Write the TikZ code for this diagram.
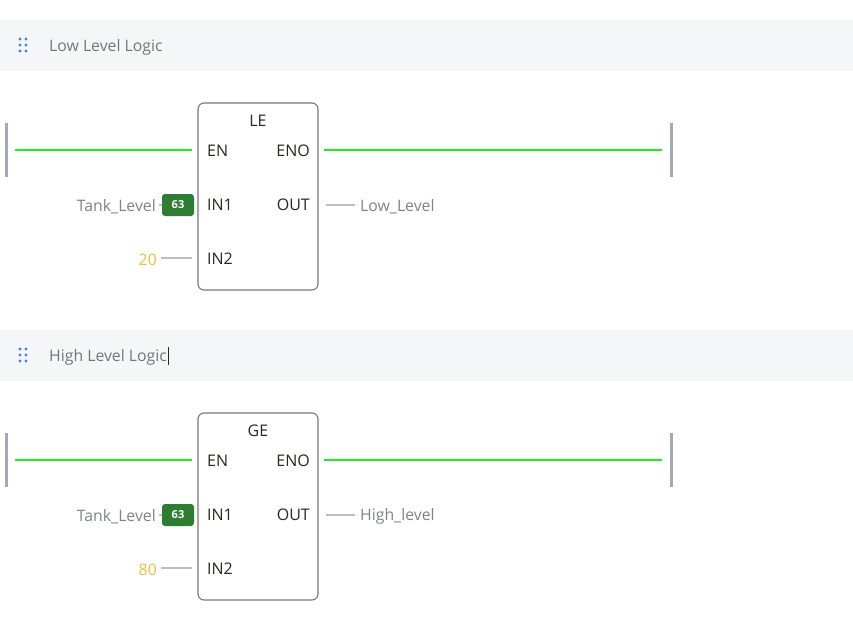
\documentclass[tikz,border=0pt]{standalone}
\usepackage{fontspec}
\setmainfont{Open Sans}
\definecolor{band}{HTML}{F5F6F8}
\definecolor{hdrtxt}{HTML}{76767A}
\definecolor{dotblue}{HTML}{3B82F6}
\definecolor{railc}{HTML}{A3A8BB}
\definecolor{wire}{HTML}{1EF01E}
\definecolor{boxc}{HTML}{76787D}
\definecolor{pintxt}{HTML}{2A2622}
\definecolor{vartxt}{HTML}{80838B}
\definecolor{badge}{HTML}{2E7D32}
\definecolor{constc}{HTML}{F2BE3A}
\definecolor{thin}{HTML}{BDBDBD}
\tikzset{
  hdrband/.style={fill=band,draw=none},
  hdrlabel/.style={anchor=west,inner sep=0pt,text=hdrtxt,font=\fontsize{15.8}{18}\selectfont},
  rail/.style={fill=railc,draw=none,minimum width=3pt,minimum height=54pt,inner sep=0pt},
  fbox/.style={draw=boxc,line width=1.1pt,rounded corners=6pt,minimum width=120pt,minimum height=187pt,inner sep=0pt},
  pinl/.style={anchor=west,inner sep=0pt,text=pintxt,font=\fontsize{16}{18}\selectfont},
  pinr/.style={anchor=east,inner sep=0pt,text=pintxt,font=\fontsize{16}{18}\selectfont},
  ftitle/.style={inner sep=0pt,text=pintxt,font=\fontsize{16}{18}\selectfont},
  wireline/.style={draw=wire,line width=2.6pt},
  thinline/.style={draw=thin,line width=1.5pt},
  varlabel/.style={inner sep=0pt,text=vartxt,font=\fontsize{15.8}{18}\selectfont},
  constlabel/.style={anchor=east,inner sep=0pt,text=constc,font=\fontsize{15.8}{18}\selectfont},
  badgebox/.style={fill=badge,rounded corners=3pt,minimum width=32pt,minimum height=22pt,inner sep=0pt,text=white,font=\bfseries\fontsize{11}{13}\selectfont},
  icondot/.style={fill=dotblue,draw=none}
}
\newcommand{\ladderblock}[6]{%
  % #1 prefix, #2 y offset, #3 title, #4 const, #5 output var, #6 header text
  \begin{scope}[yshift=-#2pt]
    \fill[hdrband] (0,20) rectangle (853,71);
    \foreach \dx in {20,26}{\foreach \dy in {39,45,51}{\fill[icondot] (\dx,\dy) circle (1.6);}}
    \node[hdrlabel] (#1hdr) at (49,47.5) {#6};
    \node[rail] (#1railL) at (6.5,150) {};
    \node[rail] (#1railR) at (671.5,150) {};
    \node[fbox] (#1box) at (258,196.5) {};
    \node[ftitle] (#1title) at (258,121) {#3};
    \node[pinl] (#1en) at (207,151) {EN};
    \node[pinr] (#1eno) at (310,151) {ENO};
    \node[pinl] (#1inA) at (207,205) {IN1};
    \node[pinr] (#1out) at (310,205) {OUT};
    \node[pinl] (#1inB) at (207,259) {IN2};
    \coordinate (#1enW) at (#1box.west |- 0,150);
    \coordinate (#1enoE) at (#1box.east |- 0,150);
    \coordinate (#1inBW) at (#1box.west |- 0,258);
    \coordinate (#1outE) at (#1box.east |- 0,205);
    \draw[wireline] ([xshift=8pt]#1railL.center) -- ([xshift=-5pt]#1enW);
    \draw[wireline] ([xshift=5pt]#1enoE) -- ([xshift=-10pt]#1railR.center);
    \node[badgebox] (#1badge) at (178,205) {63};
    \node[varlabel,anchor=east] (#1invar) at (156,206.5) {Tank\_Level};
    \draw[thinline] ([xshift=3pt]#1invar.east |- #1badge) -- (#1badge.west);
    \node[constlabel] (#1const) at (157,259.5) {#4};
    \draw[thinline] ([xshift=4pt]#1const.east |- #1inBW) -- ([xshift=-5pt]#1inBW);
    \node[varlabel,anchor=west] (#1outvar) at (360,206.5) {#5};
    \draw[thinline] ([xshift=7pt]#1outE) -- ([xshift=-5pt]#1outvar.west |- #1outE);
  \end{scope}}
\begin{document}
\begin{tikzpicture}[x=1pt,y=-1pt]
  \useasboundingbox (0,0) rectangle (853,631);
  \fill[white] (0,0) rectangle (853,631);
  \ladderblock{a}{0}{LE}{20}{Low\_Level}{Low Level Logic}
  \ladderblock{b}{310}{GE}{80}{High\_level}{High Level Logic}
  \draw[pintxt,line width=0.8pt] ([xshift=1pt]bhdr.east |- 0,347) -- ([xshift=1pt]bhdr.east |- 0,365);
\end{tikzpicture}
\end{document}
